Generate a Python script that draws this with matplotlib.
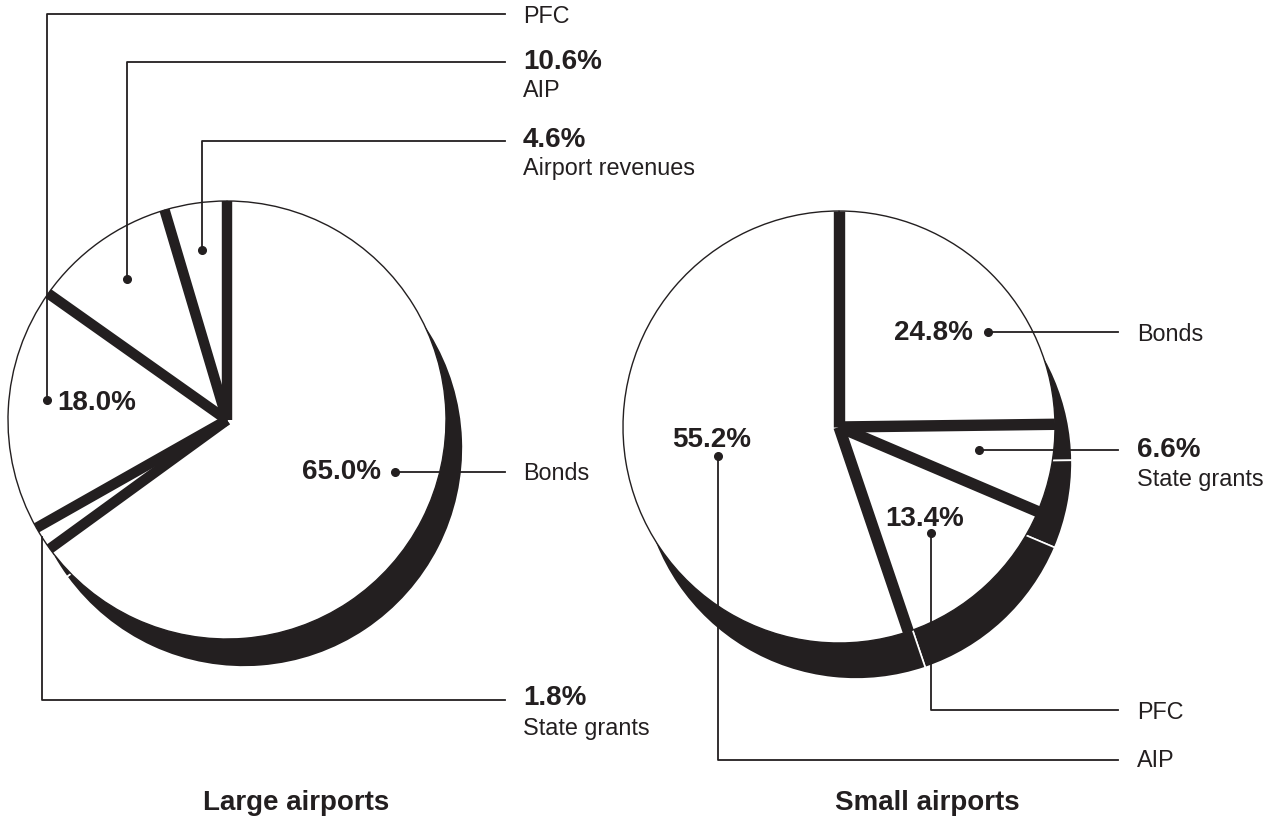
import numpy as np
import matplotlib
matplotlib.use("Agg")
import matplotlib.pyplot as plt

plt.rcParams['font.family'] = ['Liberation Sans', 'DejaVu Sans']

INK = '#231f20'
W, H = 1269, 821

# data
large_labels = ['Bonds', 'State grants', 'PFC', 'AIP', 'Airport revenues']
large_values = [65.0, 1.8, 18.0, 10.6, 4.6]
small_labels = ['Bonds', 'State grants', 'PFC', 'AIP']
small_values = [24.8, 6.6, 13.4, 55.2]
titles = ['Large airports', 'Small airports']


def iy(y):
    # image y (top down) -> data y
    return H - y


def draw_pie(ax, values, cx, cy, r, dx, dy, band=7.5):
    # black drop shadow
    ax.pie(values, center=(cx + dx, iy(cy + dy)), radius=r,
           colors=[INK] * len(values), startangle=90, counterclock=False,
           wedgeprops=dict(edgecolor='white', linewidth=1.2))
    # white slices with thin outline
    wedges, _ = ax.pie(values, center=(cx, iy(cy)), radius=r,
                       colors=['white'] * len(values), startangle=90, counterclock=False,
                       wedgeprops=dict(edgecolor=INK, linewidth=1.0))
    # thick black bands between the slices
    for w in wedges:
        a = np.deg2rad(w.theta1)
        ax.plot([cx, cx + r * np.cos(a)], [iy(cy), iy(cy) + r * np.sin(a)],
                color=INK, lw=band, solid_capstyle='butt', zorder=3)
    return wedges


def leader(ax, pts, dot=True):
    xs = [p[0] for p in pts]
    ys = [iy(p[1]) for p in pts]
    ax.plot(xs, ys, color=INK, lw=1.3, zorder=5)
    if dot:
        ax.plot(xs[0], ys[0], 'o', color=INK, ms=5.5, zorder=6)


def label(ax, x, y, text, bold=False, size=None, ha='left'):
    ax.text(x, iy(y), text, ha=ha, va='center', color=INK,
            fontsize=size or (20 if bold else 16.8),
            fontweight='bold' if bold else 'normal', zorder=7)


fig = plt.figure(figsize=(W / 100, H / 100), dpi=100)
ax = fig.add_axes([0, 0, 1, 1])

draw_pie(ax, large_values, 227, 420, 219, 17, 28, band=7.5)
draw_pie(ax, small_values, 839, 427, 216, 17, 36, band=8.2)

# large airports labels
leader(ax, [(395, 472), (505, 472)])
label(ax, 381, 472, '65.0%', bold=True, ha='right')
label(ax, 523, 473, large_labels[0])

leader(ax, [(47, 400), (47, 14), (505, 14)])
label(ax, 57, 403, '18.0%', bold=True)
label(ax, 523, 16, large_labels[2])

leader(ax, [(127, 279), (127, 62), (505, 62)])
label(ax, 523, 62, '10.6%', bold=True)
label(ax, 523, 90, large_labels[3])

leader(ax, [(202, 250), (202, 141), (505, 141)])
label(ax, 523, 140, '4.6%', bold=True)
label(ax, 523, 168, large_labels[4])

leader(ax, [(42, 537), (42, 700), (505, 700)], dot=False)
label(ax, 523, 698, '1.8%', bold=True)
label(ax, 523, 728, large_labels[1])

# small airports labels
leader(ax, [(988, 332), (1118, 332)])
label(ax, 973, 333, '24.8%', bold=True, ha='right')
label(ax, 1137, 334, small_labels[0])

leader(ax, [(979, 450), (1118, 450)])
label(ax, 1137, 450, '6.6%', bold=True)
label(ax, 1137, 479, small_labels[1])

leader(ax, [(931, 533), (931, 710), (1118, 710)])
label(ax, 925, 519, '13.4%', bold=True, ha='center')
label(ax, 1137, 712, small_labels[2])

leader(ax, [(718, 456), (718, 760), (1118, 760)])
label(ax, 712, 440, '55.2%', bold=True, ha='center')
label(ax, 1137, 760, small_labels[3])

# titles
label(ax, 296, 803, titles[0], bold=True, size=20, ha='center')
label(ax, 927, 803, titles[1], bold=True, size=20, ha='center')

ax.set_xlim(0, W)
ax.set_ylim(0, H)
ax.set_aspect('equal')
ax.axis('off')

fig.savefig('out.png', dpi=100, facecolor='white')
